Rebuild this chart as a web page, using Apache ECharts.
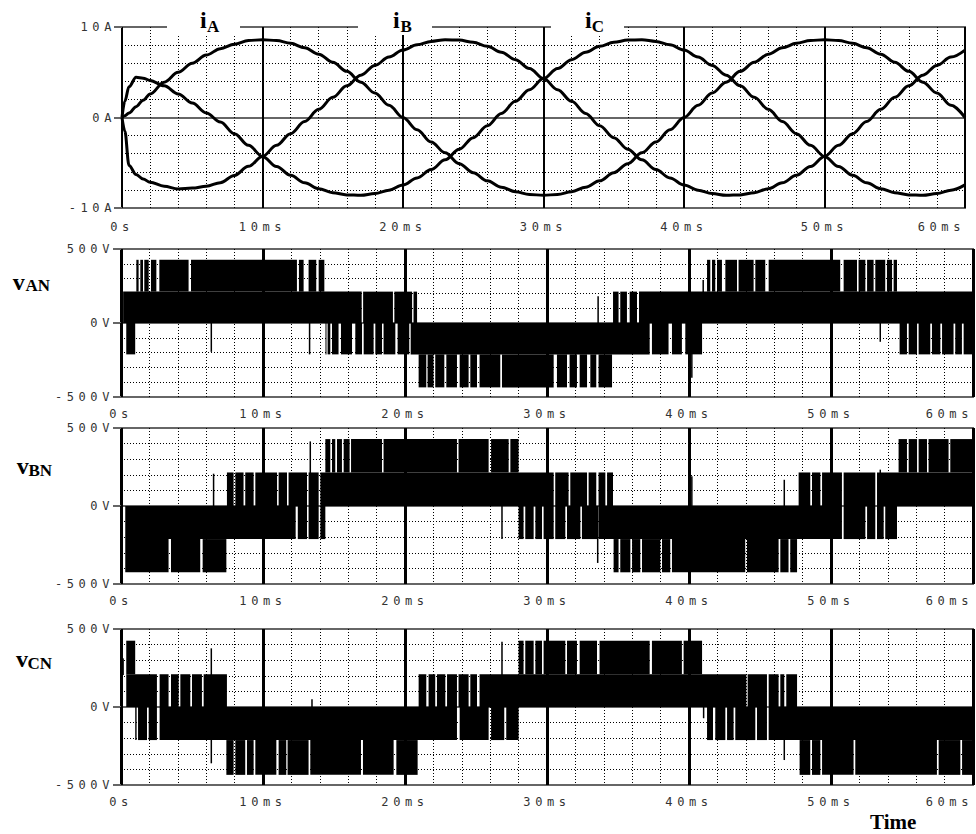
<!DOCTYPE html>
<html><head><meta charset="utf-8">
<script src="https://cdn.jsdelivr.net/npm/echarts@6/dist/echarts.min.js"></script>
<style>
html,body{margin:0;padding:0;background:#fff}
#c{width:976px;height:834px}
#c text[style*="DejaVu Sans Mono"]{letter-spacing:4.6px}
#c text[font-family*="DejaVu Sans Mono"]{letter-spacing:4.6px}
#c path[stroke-dasharray]{shape-rendering:crispEdges}
</style></head><body><div id="c"></div>
<script>
// ---------- data ----------
const timeMs = [0,0.2,0.5,1,1.5,2,3,4,5,6,7,8,9,10,11,12,13,14,15,16,17,18,19,20,21,22,23,24,25,26,27,28,29,30,31,32,33,34,35,36,37,38,39,40,41,42,43,44,45,46,47,48,49,50,51,52,53,54,55,56,57,58,59,60];
const iA = [0,0.2,0.5,1.2,1.9,2.6, 3.9,5.0,6.0,6.9,7.6,8.1,8.5,8.6,8.5,8.2,7.7,7.0,6.1,5.1,3.9,2.7,1.35,0, -1.35,-2.7,-3.9,-5.1,-6.1,-7.0,-7.7,-8.2,-8.5,-8.6,-8.5,-8.2,-7.7,-7.0,-6.1,-5.1,-3.9,-2.7,-1.35,0, 1.35,2.7,3.9,5.1,6.1,7.0,7.7,8.2,8.5,8.6,8.5,8.2,7.7,7.0,6.1,5.1,3.9,2.7,1.35,0];
const iB = [0,-1.5,-5.3,-6.3,-6.8,-7.15, -7.6,-7.9,-7.8,-7.6,-7.2,-6.4,-5.4,-4.3,-3.08,-1.79,-0.45,0.9,2.23,3.5,4.68,5.75,6.68,7.45, 8.03,8.41,8.59,8.55,8.31,7.86,7.21,6.39,5.41,4.3,3.08,1.79,0.45,-0.9,-2.23,-3.5,-4.68,-5.75,-6.68,-7.45, -8.03,-8.41,-8.59,-8.55,-8.31,-7.86,-7.21,-6.39,-5.41,-4.3,-3.08,-1.79,-0.45,0.9,2.23,3.5,4.68,5.75,6.68,7.45];
const iC = [0,1.8,3.4,4.45,4.35,4.1, 3.5,2.6,1.6,0.5,-0.5,-1.79,-3.08,-4.3,-5.41,-6.39,-7.21,-7.86,-8.31,-8.55,-8.59,-8.41,-8.03,-7.45, -6.68,-5.75,-4.68,-3.5,-2.23,-0.9,0.45,1.79,3.08,4.3,5.41,6.39,7.21,7.86,8.31,8.55,8.59,8.41,8.03,7.45, 6.68,5.75,4.68,3.5,2.23,0.9,-0.45,-1.79,-3.08,-4.3,-5.41,-6.39,-7.21,-7.86,-8.31,-8.55,-8.59,-8.41,-8.03,-7.45];

const xTickLabels = ['0s','10ms','20ms','30ms','40ms','50ms','60ms'];
const currentTicks = [-10,0,10];
const currentTickLabels = ['-10A','0A','10A'];
const voltTicks = [-500,0,500];
const voltTickLabels = ['-500V','0V','500V'];

// PWM voltage blocks: [tStart(ms), tEnd(ms), vLow(V), vHigh(V)]
const vAN_blocks = [
 [0.15,16.95,0,212],[17.05,19.15,0,212],[19.25,20.5,0,212],[20.6,20.85,0,212],
 [34.65,35.04,0,212],[35.16,35.63,0,212],[35.82,36.34,0,212],[36.48,60,0,212],
 [1.08,1.24,212,427],[1.36,1.55,212,427],[1.64,1.95,212,427],[2.11,2.49,212,427],[2.70,4.76,212,427],[4.93,12.39,212,427],[12.53,12.86,212,427],[13.21,13.75,212,427],[13.92,14.32,212,427],
 [41.27,41.5,212,427],[41.62,41.85,212,427],[41.97,42.32,212,427],[42.56,43.38,212,427],[43.49,44.55,212,427],[44.67,45.37,212,427],[45.61,50.65,212,427],[50.89,51.83,212,427],[51.94,52.42,212,427],[52.54,53.0,212,427],[53.12,53.82,212,427],[53.94,54.3,212,427],[54.41,54.65,212,427],
 [0.37,1.0,-212,0],[14.4,14.46,-212,0],[14.55,14.74,-212,0],[14.86,15.32,-212,0],[15.49,16.27,-212,0],[16.5,16.97,-212,0],[17.09,17.79,-212,0],[17.91,18.38,-212,0],[18.49,19.32,-212,0],[19.48,20.3,-212,0],[20.4,37.23,-212,0],[37.39,38.56,-212,0],[38.8,39.5,-212,0],[39.74,40.92,-212,0],
 [54.83,55.35,-212,0],[55.47,56.06,-212,0],[56.17,56.99,-212,0],[57.11,57.7,-212,0],[57.82,58.63,-212,0],[58.75,59.22,-212,0],[59.34,60,-212,0],
 [20.96,21.5,-435,-212],[21.59,22.01,-435,-212],[22.13,22.77,-435,-212],[22.91,23.66,-435,-212],[23.85,24.48,-435,-212],[24.6,25.07,-435,-212],[25.25,26.71,-435,-212],[26.83,30.47,-435,-212],[30.7,31.41,-435,-212],[31.59,32.11,-435,-212],[32.3,32.82,-435,-212],[33.05,33.47,-435,-212],[33.63,34.58,-435,-212]
];
const vAN_spikes = [[6.36,-195,0],[13.28,-212,0],[33.6,0,180],[40.2,-370,0],[41.0,0,290],[53.47,-127,0]];

const vBN_blocks = [
 [7.46,7.93,0,215],[8.05,8.63,0,215],[8.75,9.34,0,215],[9.46,10.99,0,215],[11.1,11.69,0,215],[11.8,13.1,0,215],[13.21,13.92,0,215],[14.04,30.47,0,215],[30.58,31.52,0,215],[31.64,32.82,0,215],[32.93,33.47,0,215],[33.63,34.11,0,215],[34.23,34.65,0,215],
 [47.72,48.54,0,215],[48.66,49.25,0,215],[49.37,50.77,0,215],[50.89,53.12,0,215],[53.24,60,0,215],
 [14.39,14.74,215,429],[14.86,15.09,215,429],[15.21,15.56,215,429],[15.68,16.1,215,429],[16.2,18.38,215,429],[18.49,23.66,215,429],[23.77,25.89,215,429],[26.06,27.3,215,429],[27.42,28.0,215,429],
 [54.76,55.35,215,429],[55.47,56.06,215,429],[56.17,56.76,215,429],[56.87,58.28,215,429],[58.4,60,215,429],
 [0.3,12.3,-212,0],[12.45,13.1,-212,0],[13.21,13.92,-212,0],[14.04,14.39,-212,0],[28.0,28.35,-212,0],[28.47,29.06,-212,0],[29.18,29.65,-212,0],[29.76,30.47,-212,0],[30.58,31.29,-212,0],[31.41,32.35,-212,0],[32.46,33.52,-212,0],[33.63,50.77,-212,0],[50.89,52.42,-212,0],[52.54,53.12,-212,0],[53.24,53.71,-212,0],[53.82,54.65,-212,0],
 [0.02,0.12,-425,-310],[0.3,3.35,-425,-212],[3.52,5.58,-425,-212],[5.75,7.42,-425,-212],
 [34.69,35.04,-425,-212],[35.16,35.87,-425,-212],[35.99,36.57,-425,-212],[36.69,37.98,-425,-212],[38.1,38.68,-425,-212],[38.8,43.96,-425,-212],[44.08,46.31,-425,-212],[46.43,47.01,-425,-212],[47.13,47.61,-425,-212]
];
const vBN_spikes = [[6.52,0,207],[13.33,0,414],[26.83,-212,0],[33.57,-365,0],[40.2,0,190],[46.71,0,168],[53.47,0,233]];

const vCN_blocks = [
 [0.05,0.2,205,312],
 [0.37,2.53,0,210],[2.72,3.35,0,210],[3.52,4.06,0,210],[4.18,4.88,0,210],[5.0,5.7,0,210],[5.82,7.46,0,210],
 [20.96,21.5,0,210],[21.66,22.13,0,210],[22.25,22.84,0,210],[22.96,23.66,0,210],[23.77,24.48,0,210],[24.6,25.07,0,210],[25.25,44.04,0,210],[44.13,45.49,0,210],[45.61,46.31,0,210],[46.43,46.71,0,210],[46.85,47.61,0,210],
 [0.37,1.0,210,425],[28.0,28.35,210,425],[28.47,29.06,210,425],[29.18,29.65,210,425],[29.76,31.29,210,425],[31.41,32.11,210,425],[32.3,33.52,210,425],[33.7,37.23,210,425],[37.39,39.5,210,425],[39.62,40.92,210,425],
 [1.0,1.1,-212,0],[1.2,1.83,-212,0],[1.95,2.53,-212,0],[2.72,23.66,-212,0],[23.85,25.89,-212,0],[26.06,26.99,-212,0],[27.13,28.0,-212,0],
 [41.27,41.69,-212,0],[41.85,42.56,-212,0],[42.68,43.14,-212,0],[43.26,44.67,-212,0],[44.79,45.49,-212,0],[45.61,60,-212,0],
 [7.42,7.93,-435,-212],[8.05,8.75,-435,-212],[8.87,9.34,-435,-212],[9.46,10.94,-435,-212],[11.1,11.64,-435,-212],[11.73,13.21,-435,-212],[13.33,16.9,-435,-212],[17.04,19.2,-435,-212],[19.39,20.89,-435,-212],
 [47.79,48.54,-435,-212],[48.66,49.25,-435,-212],[49.37,51.59,-435,-212],[51.71,57.46,-435,-212],[57.58,59.11,-435,-212],[59.23,60,-435,-212]
];
const vCN_spikes = [[6.36,-361,376],[13.45,0,49],[26.83,0,419],[41.03,-72,0],[46.71,-340,0]];

// ---------- chart ----------
const chart = echarts.init(document.getElementById('c'), null, {renderer: 'svg'});

const LABEL_FONT = 'DejaVu Sans Mono';
function xAxisCfg(idx, w, margin) {
  return {
    gridIndex: idx, type: 'value', min: 0, max: 60, interval: 10,
    axisLine: {show: false},
    axisTick: {show: true, length: 5, lineStyle: {color: '#000', width: w}},
    axisLabel: {margin: margin, fontFamily: LABEL_FONT, fontSize: 12, color: '#333', alignMaxLabel: 'right',
      formatter: v => xTickLabels[Math.round(v / 10)]},
    splitLine: {show: true, lineStyle: {color: '#000', width: w}},
    minorTick: {show: false, splitNumber: 5},
    minorSplitLine: {show: true, lineStyle: {color: '#000', width: 1, type: [1, 2]}}
  };
}
function yAxisCfg(idx, ticks, labels, margin) {
  return {
    gridIndex: idx, type: 'value', min: ticks[0], max: ticks[2], interval: ticks[2],
    axisLine: {show: false},
    axisTick: {show: true, length: 8, lineStyle: {color: '#666', width: 2}},
    axisLabel: {margin: margin, fontFamily: LABEL_FONT, fontSize: 12, color: '#333',
      formatter: v => labels[ticks.indexOf(v)]},
    splitLine: {show: true, lineStyle: {color: '#666', width: 2}},
    minorTick: {show: false, splitNumber: 5},
    minorSplitLine: {show: true, lineStyle: {color: '#000', width: 1, type: [1, 2]}}
  };
}
function renderBlock(params, api) {
  const a = api.coord([api.value(0), api.value(3)]);
  const b = api.coord([api.value(1), api.value(2)]);
  return {type: 'rect', shape: {x: a[0], y: a[1], width: Math.max(b[0] - a[0], 1), height: b[1] - a[1]},
    style: {fill: '#000'}};
}
function renderSpike(params, api) {
  const a = api.coord([api.value(0), api.value(1)]);
  const b = api.coord([api.value(0), api.value(2)]);
  return {type: 'line', shape: {x1: a[0], y1: a[1], x2: b[0], y2: b[1]}, style: {stroke: '#000', lineWidth: 1.5}};
}
function curve(name, vals) {
  return {name: name, type: 'line', xAxisIndex: 0, yAxisIndex: 0, showSymbol: false,
    smooth: 0.35, smoothMonotone: 'x',
    lineStyle: {color: '#000', width: 3}, data: timeMs.map((t, k) => [t, vals[k]]), z: 3};
}
function blockSeries(idx, data) {
  return {type: 'custom', xAxisIndex: idx, yAxisIndex: idx, renderItem: renderBlock,
    encode: {x: [0, 1], y: [2, 3]}, data: data, clip: true, z: 3};
}
function spikeSeries(idx, data) {
  return {type: 'custom', xAxisIndex: idx, yAxisIndex: idx, renderItem: renderSpike,
    encode: {x: 0, y: [1, 2]}, data: data, clip: true, z: 3};
}

const gridBase = {show: true, borderColor: '#666', borderWidth: 2, backgroundColor: 'transparent', containLabel: false};
const serif = '"Liberation Serif", "Times New Roman", serif';
function txt(s, x, y, size) {
  return {type: 'text', x: x, y: y, z: 101,
    style: {text: s, font: 'bold ' + size + 'px ' + serif, fill: '#000', align: 'left', verticalAlign: 'middle',
      textAlign: 'left', textVerticalAlign: 'middle'}};
}
function whiteBox(x, w) {
  return {type: 'rect', shape: {x: x, y: 17, width: w, height: 18}, style: {fill: '#fff'}, z: 100};
}

chart.setOption({
  animation: false,
  backgroundColor: '#fff',
  grid: [
    Object.assign({left: 122, top: 27, width: 843, height: 181}, gridBase),
    Object.assign({left: 121, top: 249, width: 852, height: 148}, gridBase),
    Object.assign({left: 121, top: 428, width: 852, height: 156}, gridBase),
    Object.assign({left: 121, top: 629, width: 852, height: 156}, gridBase)
  ],
  xAxis: [xAxisCfg(0, 2, 13), xAxisCfg(1, 3, 11), xAxisCfg(2, 3, 11), xAxisCfg(3, 3, 11)],
  yAxis: [yAxisCfg(0, currentTicks, currentTickLabels, 6), yAxisCfg(1, voltTicks, voltTickLabels, 7),
          yAxisCfg(2, voltTicks, voltTickLabels, 7), yAxisCfg(3, voltTicks, voltTickLabels, 7)],
  graphic: [
    whiteBox(167, 73), whiteBox(358, 74), whiteBox(551, 73),
    txt('i', 200, 20.1, 24), txt('A', 207, 26.9, 17),
    txt('i', 393, 20.1, 24), txt('B', 400.5, 26.9, 17),
    txt('i', 585, 20.1, 24), txt('C', 591.7, 26.9, 17),
    txt('v', 12.7, 281.8, 24), txt('AN', 25.5, 285.3, 17),
    txt('v', 16.7, 465.8, 24), txt('BN', 28.5, 470.2, 17),
    txt('v', 16, 658.8, 24), txt('CN', 27.5, 663.2, 17),
    txt('Time', 870, 821.8, 21)
  ],
  series: [
    curve('iA', iA), curve('iB', iB), curve('iC', iC),
    blockSeries(1, vAN_blocks), spikeSeries(1, vAN_spikes),
    blockSeries(2, vBN_blocks), spikeSeries(2, vBN_spikes),
    blockSeries(3, vCN_blocks), spikeSeries(3, vCN_spikes)
  ]
});
</script></body></html>
